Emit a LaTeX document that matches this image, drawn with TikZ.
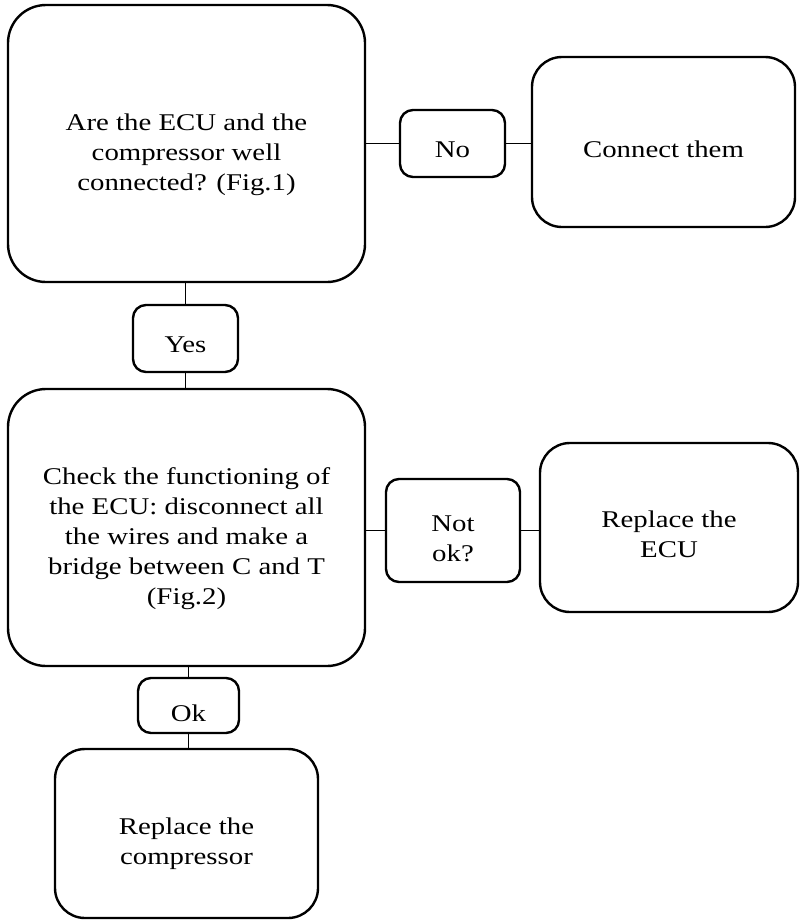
\documentclass[tikz,border=0pt]{standalone}
\usepackage{fontspec}
\setmainfont[FakeStretch=1.2]{Liberation Serif}
\begin{document}
\begin{tikzpicture}[x=1pt,y=-1pt,
  box/.style={draw=black, line width=2.4pt, rectangle, inner sep=0pt},
  bigbox/.style={box, rounded corners=38pt},
  midbox/.style={box, rounded corners=30pt},
  smallbox/.style={box, rounded corners=13pt},
  txt/.style={align=center, inner sep=0pt, font=\fontsize{24}{30}\selectfont},
  conn/.style={draw=black, line width=1.2pt}
]
\useasboundingbox (0,0) rectangle (802,922);
% boxes
\node[bigbox, minimum width=357pt, minimum height=277pt] (q1) at (186.5,143.5) {};
\node[smallbox, minimum width=105pt, minimum height=67pt] (no) at (452.5,143.5) {};
\node[midbox, minimum width=263pt, minimum height=170pt] (conn) at (663.5,142) {};
\node[smallbox, minimum width=105pt, minimum height=67pt] (yes) at (185.5,338.5) {};
\node[bigbox, minimum width=357pt, minimum height=277pt] (q2) at (186.5,527.5) {};
\node[smallbox, minimum width=134pt, minimum height=103pt] (notok) at (453,530.5) {};
\node[midbox, minimum width=258pt, minimum height=169pt] (recu) at (669,527.5) {};
\node[smallbox, minimum width=101pt, minimum height=55pt] (ok) at (188.5,705.5) {};
\node[midbox, minimum width=263pt, minimum height=169pt] (rcomp) at (186.5,833.5) {};
% texts
\node[txt] (t1) at ([yshift=-11.5pt]q1.center) {Are the ECU and the\\compressor well\\connected? (Fig.1)};
\node[txt] (t2) at ([yshift=-6pt]no.center) {No};
\node[txt] (t3) at ([yshift=-7pt]conn.center) {Connect them};
\node[txt] (t4) at ([yshift=-6pt]yes.center) {Yes};
\node[txt] (t5) at ([yshift=-11pt]q2.center) {Check the functioning of\\the ECU: disconnect all\\the wires and make a\\bridge between C and T\\(Fig.2)};
\node[txt] (t6) at ([yshift=-8.5pt]notok.center) {Not\\ok?};
\node[txt] (t7) at ([yshift=-6.5pt]recu.center) {Replace the\\ECU};
\node[txt] (t8) at ([yshift=-8pt]ok.center) {Ok};
\node[txt] (t9) at ([yshift=-10pt]rcomp.center) {Replace the\\compressor};
% connectors
\draw[conn] (q1.east) -- (no.west);
\draw[conn] (no.east) -- (conn.west |- no.east);
\draw[conn] (q1.south -| yes.north) -- (yes.north);
\draw[conn] (yes.south) -- (q2.north -| yes.south);
\draw[conn] (q2.east |- notok.west) -- (notok.west);
\draw[conn] (notok.east) -- (recu.west |- notok.east);
\draw[conn] (q2.south -| ok.north) -- (ok.north);
\draw[conn] (ok.south) -- (rcomp.north -| ok.south);
\end{tikzpicture}
\end{document}
